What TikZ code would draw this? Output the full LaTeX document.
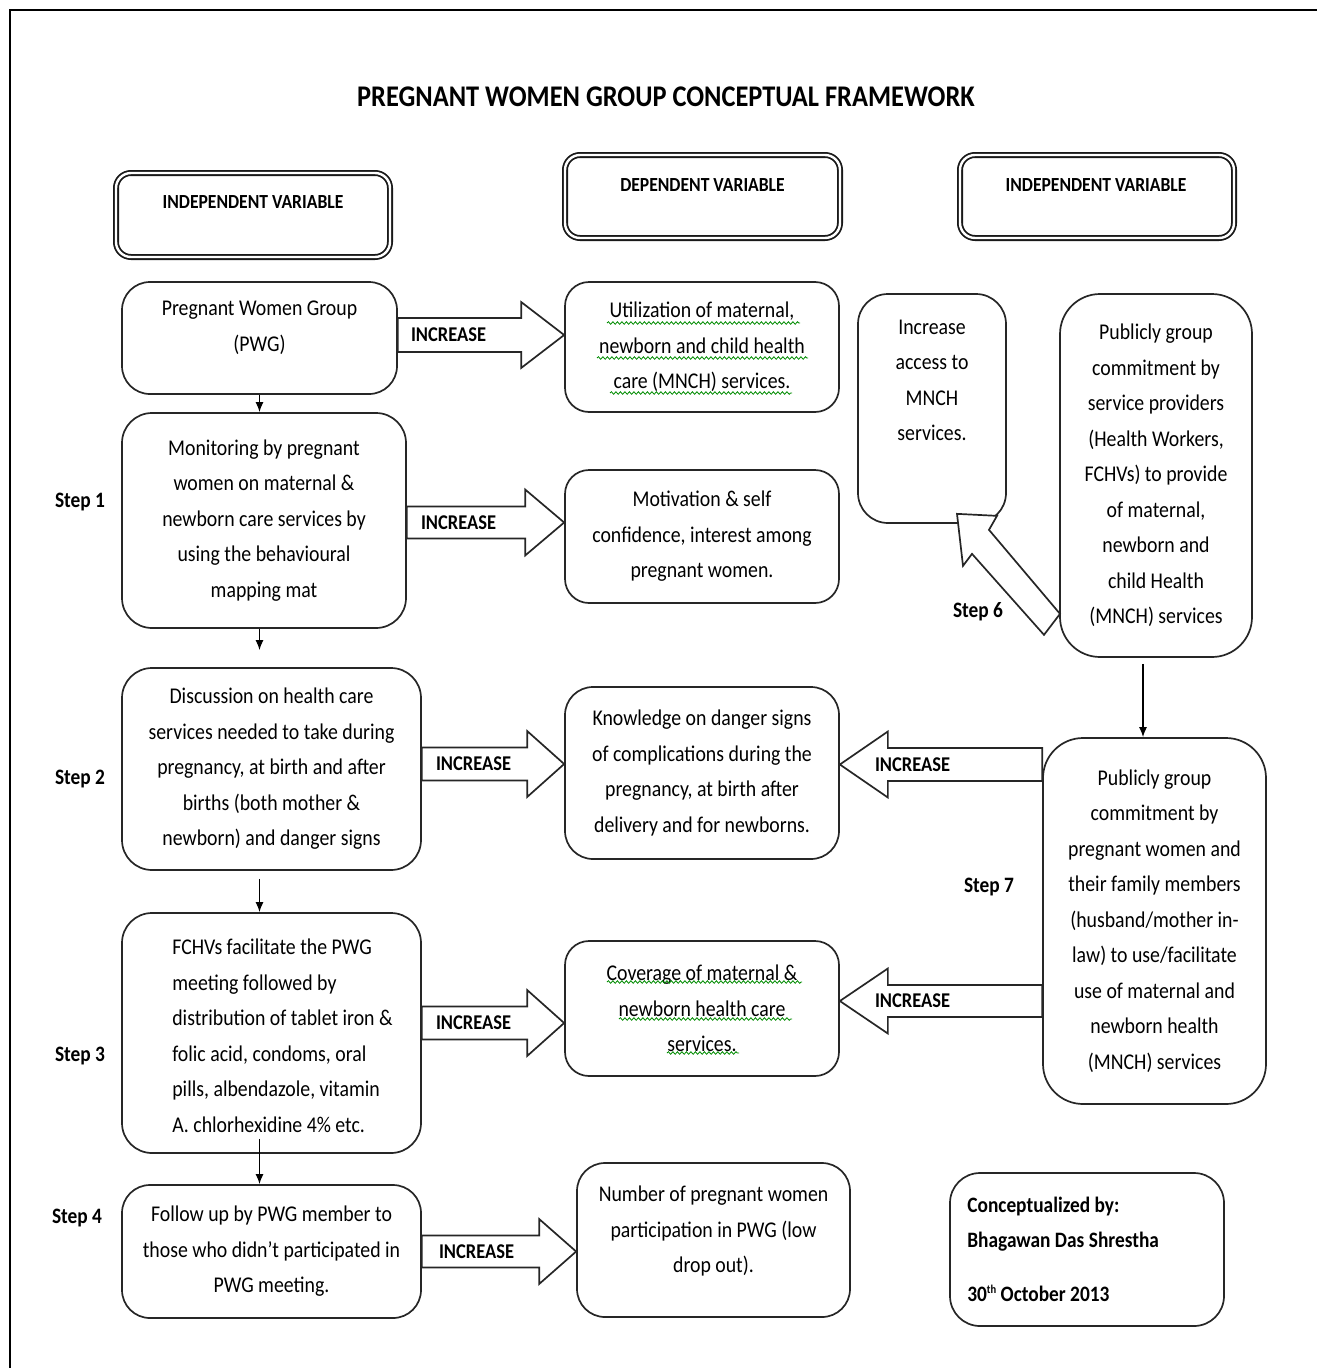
\documentclass[tikz,border=0pt]{standalone}
\usepackage{fontspec}
\setmainfont{Carlito}[FakeStretch=0.88]
\usetikzlibrary{calc,arrows.meta,decorations.pathmorphing}
\newcommand\fBody{\fontsize{22.5}{35.5}\selectfont}
\newcommand\fHdr{\bfseries\fontsize{20}{24}\selectfont}
\newcommand\fTitle{\bfseries\fontsize{30}{36}\selectfont}
\newcommand\fInc{\bfseries\fontsize{21}{24}\selectfont}
\newcommand\fStep{\bfseries\fontsize{22}{26}\selectfont}
\newcommand\rblk[5]{\draw[blk] ($(#1)+(0,-#4)$) -- ($(#2)+(-#3,-#4)$) -- ($(#2)+(-#3,-#5)$) -- (#2) -- ($(#2)+(-#3,#5)$) -- ($(#2)+(-#3,#4)$) -- ($(#1)+(0,#4)$) -- cycle;}
\newcommand\lblk[5]{\draw[blk] ($(#1)+(0,-#4)$) -- ($(#2)+(#3,-#4)$) -- ($(#2)+(#3,-#5)$) -- (#2) -- ($(#2)+(#3,#5)$) -- ($(#2)+(#3,#4)$) -- ($(#1)+(0,#4)$) -- cycle;}
\tikzset{
  box/.style={draw=black!85, line width=1.7pt, rounded corners=#1, fill=white, align=center, font=\fBody, inner sep=0pt},
  box/.default=28pt,
  txt/.style={align=center, font=\fBody, inner sep=0pt},
  hdr/.style={draw=black!90, line width=1.8pt, double, double distance=2.4pt, rounded corners=15pt, inner sep=0pt},
  hdrtxt/.style={font=\fHdr, inner sep=0pt},
  blk/.style={draw=black!85, line width=1.7pt, fill=white, line join=miter},
  inc/.style={font=\fInc, inner sep=0pt},
  steplab/.style={font=\fStep, inner sep=0pt},
  conn/.style={draw=black, line width=1.4pt, -{Latex[length=10pt,width=8pt]}},
  squig/.style={draw=green!55!black, line width=0.8pt, decorate, decoration={snake, amplitude=1.3pt, segment length=4.5pt}}
}
\begin{document}
\begin{tikzpicture}[x=1pt,y=-1pt]
\useasboundingbox (0,0) rectangle (1317,1368);
\draw[line width=1.8pt] (10,1368) -- (10,10) -- (1317,10);

\node[font=\fTitle, inner sep=0pt] (title) at (666,97) {PREGNANT WOMEN GROUP CONCEPTUAL FRAMEWORK};

% headers
\node[hdr, minimum width=274, minimum height=84] (h1) at (253,215) {};
\node[hdrtxt] (h1t) at ($(h1.center)+(0,-13)$) {INDEPENDENT VARIABLE};
\node[hdr, minimum width=275, minimum height=83] (h2) at (702.5,196.5) {};
\node[hdrtxt] (h2t) at ($(h2.center)+(0,-11.5)$) {DEPENDENT VARIABLE};
\node[hdr, minimum width=274, minimum height=83] (h3) at (1097,196.5) {};
\node[hdrtxt] (h3t) at ($(h3.center)+(-1,-11.5)$) {INDEPENDENT VARIABLE};

% left column
\node[box, minimum width=275, minimum height=112] (pwg) at (259.5,338) {};
\node[txt] (pwgt) at ($(pwg.center)+(0,-10)$) {Pregnant Women Group\\(PWG)};
\node[box=30pt, minimum width=284, minimum height=215] (s1) at (264,520.5) {Monitoring by pregnant\\women on maternal \&\\newborn care services by\\using the behavioural\\mapping mat};
\node[box=30pt, minimum width=299, minimum height=202] (s2) at (271.5,769) {Discussion on health care\\services needed to take during\\pregnancy, at birth and after\\births (both mother \&\\newborn) and danger signs};
\node[box=30pt, minimum width=299, minimum height=240] (s3) at (271.5,1033) {};
\node[txt, align=left, anchor=west] (s3t) at ($(s3.west)+(51,3)$) {FCHVs facilitate the PWG\\meeting followed by\\distribution of tablet iron \&\\folic acid, condoms, oral\\pills, albendazole, vitamin\\A. chlorhexidine 4\% etc.};
\node[box, minimum width=299, minimum height=133] (s4) at (271.5,1251.5) {Follow up by PWG member to\\those who didn't participated in\\PWG meeting.};

% middle column
\node[box=24pt, minimum width=274, minimum height=130] (m1) at (702,347) {Utilization of maternal,\\newborn and child health\\care (MNCH) services.};
\node[box=24pt, minimum width=274, minimum height=133] (m2) at (702,536.5) {Motivation \& self\\confidence, interest among\\pregnant women.};
\node[box=28pt, minimum width=274, minimum height=172] (m3) at (702,773) {Knowledge on danger signs\\of complications during the\\pregnancy, at birth after\\delivery and for newborns.};
\node[box=24pt, minimum width=274, minimum height=135] (m4) at (702,1008.5) {Coverage of maternal \&\\newborn health care\\services.};
\node[box=28pt, minimum width=273, minimum height=154] (m5) at (713.5,1240) {};
\node[txt] (m5t) at ($(m5.center)+(0,-9)$) {Number of pregnant women\\participation in PWG (low\\drop out).};

% right column
\node[box=30pt, minimum width=148, minimum height=229] (r1) at (932,408.5) {};
\node[txt] (r1t) at ($(r1.center)+(0,-28)$) {Increase\\access to\\MNCH\\services.};
\node[box=40pt, minimum width=192, minimum height=363] (r2) at (1156,475.5) {Publicly group\\commitment by\\service providers\\(Health Workers,\\FCHVs) to provide\\of maternal,\\newborn and\\child Health\\(MNCH) services};
\node[box=40pt, minimum width=223, minimum height=366] (r3) at (1154.5,921) {Publicly group\\commitment by\\pregnant women and\\their family members\\(husband/mother in-\\law) to use/facilitate\\use of maternal and\\newborn health\\(MNCH) services};
\node[box=30pt, minimum width=274, minimum height=153] (cb) at (1087,1249.5) {};
\node[txt, align=left, anchor=west, font=\bfseries\fontsize{22}{35}\selectfont] (cbt) at ($(cb.west)+(18,0)$) {Conceptualized by:\\Bhagawan Das Shrestha\\[19pt]30{\fontsize{12}{12}\selectfont\raisebox{8pt}{th}} October 2013};

% step labels
\node[steplab] (st1) at (80,502) {Step 1};
\node[steplab] (st2) at (80,779) {Step 2};
\node[steplab] (st3) at (80,1056) {Step 3};
\node[steplab] (st4) at (77,1218) {Step 4};
\node[steplab] (st6) at (978,612) {Step 6};
\node[steplab] (st7) at (989,887) {Step 7};

% vertical connectors
\draw[conn] (pwg.south) -- (pwg.south |- s1.north);
\draw[conn] (pwg.south |- s1.south) -- ($(pwg.south |- s2.north)+(0,-17)$);
\draw[conn] ($(pwg.south |- s2.south)+(0,8)$) -- (pwg.south |- s3.north);
\draw[conn] ($(pwg.south |- s3.south)+(0,-15)$) -- (pwg.south |- s4.north);
\coordinate (c5s) at ($(r2.south)+(-13,6)$);
\draw[conn] (c5s) -- (c5s |- r3.north);

% block arrows
\coordinate (a1t) at ($(pwg.east)+(0,-3)$);   \coordinate (a1h) at (m1.west |- a1t);
\rblk{a1t}{a1h}{43}{17}{33}
\coordinate (a2t) at ($(s1.east)+(0,2)$);     \coordinate (a2h) at (m2.west |- a2t);
\rblk{a2t}{a2h}{39}{16}{33}
\coordinate (a3t) at ($(s2.east)+(0,-5)$);    \coordinate (a3h) at (m3.west |- a3t);
\rblk{a3t}{a3h}{37}{16.5}{33}
\coordinate (a4t) at ($(s3.east)+(0,-10)$);   \coordinate (a4h) at (m4.west |- a4t);
\rblk{a4t}{a4h}{37}{16.5}{33}
\coordinate (a5t) at (s4.east);               \coordinate (a5h) at (m5.west |- a5t);
\rblk{a5t}{a5h}{37}{16}{32.5}
\coordinate (a6h) at ($(m3.east)+(0,-8.5)$);  \coordinate (a6t) at (r3.west |- a6h);
\lblk{a6t}{a6h}{48}{16.5}{33}
\coordinate (a7h) at ($(m4.east)+(0,-7.5)$);  \coordinate (a7t) at (r3.west |- a7h);
\lblk{a7t}{a7h}{48}{16}{32.5}

\node[inc, anchor=west] (i1) at ($(a1t)+(13,0)$) {INCREASE};
\node[inc, anchor=west] (i2) at ($(a2t)+(14,0)$) {INCREASE};
\node[inc, anchor=west] (i3) at ($(a3t)+(14,0)$) {INCREASE};
\node[inc, anchor=west] (i4) at ($(a4t)+(14,0)$) {INCREASE};
\node[inc, anchor=west] (i5) at ($(a5t)+(17,0)$) {INCREASE};
\node[inc, anchor=west] (i6) at ($(a6h)+(35,0)$) {INCREASE};
\node[inc, anchor=west] (i7) at ($(a7h)+(35,0)$) {INCREASE};

% step 6 block arrow (r2 -> r1)
\coordinate (s6) at ($(r1.south)+(25,-10)$);
\draw[blk] (s6) -- ++(40,2) -- ++(-8,14) -- ++(71,84) -- ++(-16,21) -- ++(-72,-81) -- ++(-9,12) -- cycle;

% spell-check squiggles
\draw[squig] (607,323) -- (800,323);
\draw[squig] (597,358) -- (808,358);
\draw[squig] (610,393) -- (792,393);
\draw[squig] (607,982) -- (802,982);
\draw[squig] (619,1019) -- (792,1019);
\draw[squig] (667,1053) -- (739,1053);
\end{tikzpicture}
\end{document}
